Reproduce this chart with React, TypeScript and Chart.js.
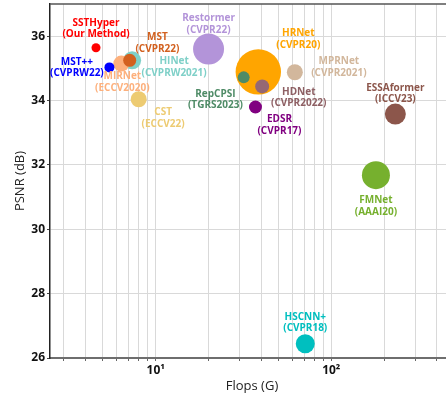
import React, { useEffect, useRef } from "react";
import { Chart, registerables } from "chart.js";

Chart.register(...registerables);

// ---- data ----
const models = [
  "HRNet", "Restormer", "FMNet", "ESSAformer", "HSCNN+", "MPRNet", "CST",
  "HINet", "MIRNet", "MST", "RepCPSI", "HDNet", "EDSR", "MST++", "SSTHyper",
];
const venues = [
  "(CVPR20)", "(CVPR22)", "(AAAI20)", "(ICCV23)", "(CVPR18)", "(CVPR2021)", "(ECCV22)",
  "(CVPRW2021)", "(ECCV2020)", "(CVPR22)", "(TGRS2023)", "(CVPR2022)", "(CVPR17)", "(CVPRW22)", "(Our Method)",
];
const flops = [38.4, 20.0, 179.6, 231.7, 71.1, 62.0, 8.0, 7.34, 6.37, 7.11, 31.7, 40.4, 37.0, 5.45, 4.57];
const psnr = [34.89, 35.6, 31.68, 33.58, 26.44, 34.88, 34.04, 35.25, 35.15, 35.25, 34.72, 34.44, 33.8, 35.03, 35.64];
const bubbleSize = [22.7, 15.5, 14, 10.5, 9.5, 8, 8, 9, 8, 6.5, 6, 7, 6.5, 5, 4.5];

const xTickValues = [3, 4, 5, 6, 7, 8, 9, 10, 20, 30, 40, 50, 60, 70, 80, 90, 100, 200, 300, 400];
const xTickLabels: Record<number, string> = { 10: "10\u00B9", 100: "10\u00B2" };
const yTickValues = [26, 28, 30, 32, 34, 36];

// ---- styles ----
const pointColors = [
  "#FFA500", "#B394D9", "#76B02E", "#8C564B", "#00BFBF", "#D2B79C", "#EDCB72",
  "#7FD0C8", "#FDB07C", "#D2601E", "#4E8B66", "#956874", "#800080", "#0000FF", "#FF0000",
];
const labelColors = [
  "#FFA500", "#B394D9", "#76B02E", "#8C564B", "#00BFBF", "#D2B79C", "#EDCB72",
  "#7FD0C8", "#FDB07C", "#D2601E", "#4E8B66", "#8E6064", "#800080", "#0000FF", "#FF0000",
];
// label offset (px) of first line centre relative to the bubble centre
const labelOffsets: [number, number][] = [
  [40, -38.7], [0, -30.7], [0, 25], [0, -26.4], [0, -27], [44, -10.7], [24.4, 13],
  [42, 1], [1, 12.7], [27.7, -22.7], [-28.3, 16.7], [36.6, 5.4], [24, 12.3], [-32.5, -5.3], [0, -24.7],
];

const FONT = "'Open Sans', 'DejaVu Sans', sans-serif";

const labelPlugin = {
  id: "bubbleLabels",
  afterDatasetsDraw(chart: any) {
    const { ctx, scales } = chart;
    ctx.save();
    ctx.font = `bold 10px ${FONT}`;
    ctx.textAlign = "center";
    ctx.textBaseline = "middle";
    for (let i = 0; i < models.length; i++) {
      const px = scales.x.getPixelForValue(flops[i]);
      const py = scales.y.getPixelForValue(psnr[i]);
      const [dx, dy] = labelOffsets[i];
      ctx.fillStyle = labelColors[i];
      ctx.fillText(models[i], px + dx, py + dy);
      ctx.fillText(venues[i], px + dx, py + dy + 11.5);
    }
    ctx.restore();
  },
};

const framePlugin = {
  id: "frame",
  afterDraw(chart: any) {
    const { ctx, chartArea } = chart;
    ctx.save();
    ctx.strokeStyle = "#555";
    ctx.lineWidth = 1.5;
    ctx.beginPath();
    ctx.moveTo(chartArea.left, chartArea.top);
    ctx.lineTo(chartArea.right, chartArea.top);
    ctx.lineTo(chartArea.right, chartArea.bottom);
    ctx.stroke();
    ctx.restore();
  },
};

export default function App() {
  const ref = useRef<HTMLCanvasElement>(null);
  useEffect(() => {
    if (!ref.current) return;
    const chart = new Chart(ref.current, {
      type: "bubble",
      data: {
        datasets: [
          {
            data: models.map((_, i) => ({ x: flops[i], y: psnr[i], r: bubbleSize[i] })),
            backgroundColor: pointColors,
            borderWidth: 0,
          },
        ],
      },
      options: {
        animation: false,
        responsive: false,
        maintainAspectRatio: false,
        devicePixelRatio: 1,
        layout: { autoPadding: false, padding: { top: 4, right: 6, left: 0, bottom: 0 } },
        plugins: { legend: { display: false }, tooltip: { enabled: false } },
        scales: {
          x: {
            type: "logarithmic",
            min: 2.5,
            max: 500,
            afterBuildTicks: (s: any) => {
              s.ticks = xTickValues.map((v) => ({ value: v, major: v === 10 || v === 100 }));
            },
            afterFit: (s: any) => {
              s.height = 41;
              s.paddingLeft = 0;
              s.paddingRight = 0;
            },
            ticks: {
              autoSkip: false,
              maxRotation: 0,
              padding: 2,
              color: "#111",
              font: { family: FONT, size: 12, weight: "bold" },
              callback: (v: any) => xTickLabels[Number(v)] ?? "",
            },
            grid: { color: "#d9d9d9", lineWidth: 1, tickLength: 3, tickColor: "#666" },
            border: { color: "#6e6e6e", width: 2 },
            title: {
              display: true,
              text: "Flops (G)",
              color: "#222",
              font: { family: FONT, size: 13 },
              padding: { top: 0, bottom: 5 },
            },
          },
          y: {
            type: "linear",
            min: 26,
            max: 37,
            afterBuildTicks: (s: any) => {
              s.ticks = yTickValues.map((v) => ({ value: v }));
            },
            afterFit: (s: any) => {
              s.width = 50;
              s.paddingTop = 0;
              s.paddingBottom = 0;
            },
            ticks: {
              padding: 2,
              color: "#111",
              font: { family: FONT, size: 12, weight: "bold" },
            },
            grid: { color: "#d9d9d9", lineWidth: 1, tickLength: 3, tickColor: "#444" },
            border: { color: "#222", width: 1.5 },
            title: {
              display: true,
              text: "PSNR (dB)",
              color: "#222",
              font: { family: FONT, size: 13 },
              padding: { top: 12, bottom: 0 },
            },
          },
        },
      },
      plugins: [labelPlugin, framePlugin],
    });
    return () => chart.destroy();
  }, []);
  return (
    <div style={{ position: "fixed", left: 0, top: 0, width: 446, height: 399, overflow: "hidden", background: "#fff" }}>
      <div style={{ width: 460, height: 399 }}>
        <canvas ref={ref} width={460} height={399} style={{ display: "block", width: 460, height: 399 }} />
      </div>
    </div>
  );
}
